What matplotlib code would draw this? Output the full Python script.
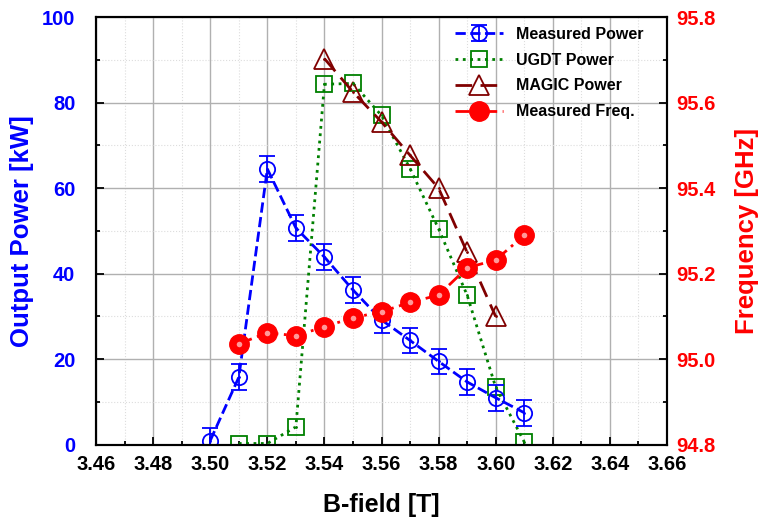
import matplotlib.pyplot as plt
from matplotlib.ticker import MultipleLocator

plt.rcParams['font.family'] = ['Liberation Sans', 'DejaVu Sans']
plt.rcParams['font.weight'] = 'bold'

# B-field values
b_meas = [3.50, 3.51, 3.52, 3.53, 3.54, 3.55, 3.56, 3.57, 3.58, 3.59, 3.60, 3.61]
p_meas = [1.0, 15.8, 64.5, 50.7, 43.9, 36.2, 29.2, 24.4, 19.5, 14.7, 11.0, 7.5]
p_err = [3, 3, 3, 3, 3, 3, 3, 3, 3, 3, 3, 3]

b_ugdt = [3.51, 3.52, 3.53, 3.54, 3.55, 3.56, 3.57, 3.58, 3.59, 3.60, 3.61]
p_ugdt = [0.3, 0.3, 4.2, 84.3, 84.5, 77.0, 64.6, 50.5, 35.0, 13.5, 0.7]

b_magic = [3.54, 3.55, 3.56, 3.57, 3.58, 3.59, 3.60]
p_magic = [90.3, 82.5, 75.5, 67.7, 60.0, 45.0, 30.0]

b_freq = [3.51, 3.52, 3.53, 3.54, 3.55, 3.56, 3.57, 3.58, 3.59, 3.60, 3.61]
freq = [95.036, 95.062, 95.055, 95.076, 95.097, 95.111, 95.133, 95.150, 95.214, 95.232, 95.290]

x_ticks = [3.46, 3.48, 3.50, 3.52, 3.54, 3.56, 3.58, 3.60, 3.62, 3.64, 3.66]
p_ticks = [0, 20, 40, 60, 80, 100]
f_ticks = [94.8, 95.0, 95.2, 95.4, 95.6, 95.8]

fig = plt.figure(figsize=(7.63, 5.19), dpi=100)
ax = fig.add_axes([0.126, 0.143, 0.748, 0.824])
ax2 = ax.twinx()

eb = ax.errorbar(b_meas, p_meas, yerr=p_err, fmt='o--', color='#0000ff', mfc='none', ms=11, mew=1.3,
                 lw=2, capsize=6, capthick=1.5, elinewidth=1.3, zorder=5)
ax.plot(b_meas, p_meas, '.', color='#0000ff', ms=2, zorder=6)
l_ugdt, = ax.plot(b_ugdt, p_ugdt, 's:', color='#008000', mfc='none', ms=11, mew=1.3, lw=2, zorder=4)
ax.plot(b_ugdt, p_ugdt, '.', color='#008000', ms=2, zorder=6)
l_magic, = ax.plot(b_magic, p_magic, '^', color='#800000', mfc='none', ms=14, mew=1.3, lw=2,
                   linestyle=(0, (6, 3)), zorder=4)
ax.plot(b_magic, p_magic, '.', color='#800000', ms=2, zorder=6)

l_freq, = ax2.plot(b_freq, freq, 'o', color='#ff0000', mec='#ff0000', ms=14, lw=2,
                   linestyle=(0, (5, 2, 1, 2)), zorder=5)
ax2.plot(b_freq, freq, 'o', color='#ff9999', ms=4, mec='none', zorder=6)

ax.set_xlim(3.46, 3.66)
ax.set_ylim(0, 100)
ax2.set_ylim(94.8, 95.8)

ax.set_xticks(x_ticks)
ax.set_xticklabels(['%.2f' % v for v in x_ticks])
ax.set_yticks(p_ticks)
ax.set_yticklabels([str(v) for v in p_ticks])
ax2.set_yticks(f_ticks)
ax2.set_yticklabels(['%.1f' % v for v in f_ticks])
ax.xaxis.set_minor_locator(MultipleLocator(0.01))
ax.yaxis.set_minor_locator(MultipleLocator(10))
ax2.yaxis.set_minor_locator(MultipleLocator(0.1))

ax.grid(which='major', color='#b0b0b0', lw=1)
ax.grid(which='minor', color='#dddddd', lw=0.8, linestyle=':')

ax.tick_params(which='both', direction='in', width=1.3, labelsize=14.5, color='black')
ax.tick_params(which='major', length=6)
ax.tick_params(which='minor', length=3)
ax.tick_params(axis='x', pad=7)
ax.tick_params(axis='y', labelcolor='#0000ff', pad=15)
ax2.tick_params(which='both', direction='in', width=1.3, labelsize=14.5, color='black',
                labelcolor='#ff0000')
ax2.tick_params(which='major', length=6, pad=7)
ax2.tick_params(which='minor', length=3)

for s in ax.spines.values():
    s.set_linewidth(1.5)
for s in ax2.spines.values():
    s.set_linewidth(1.5)

ax.set_xlabel('B-field [T]', fontsize=18, fontweight='bold', labelpad=14)
ax.set_ylabel('Output Power [kW]', fontsize=18.5, fontweight='bold', color='#0000ff', labelpad=6)
ax2.set_ylabel('Frequency [GHz]', fontsize=18.5, fontweight='bold', color='#ff0000', labelpad=14)

leg = ax2.legend([eb, l_ugdt, l_magic, l_freq],
                 ['Measured Power', 'UGDT Power', 'MAGIC Power', 'Measured Freq.'],
                 loc='upper right', bbox_to_anchor=(0.975, 1.0), frameon=False,
                 fontsize=11.5, handlelength=3.0, labelspacing=0.68, borderaxespad=0.2)
ax.set_zorder(ax2.get_zorder() - 1)
ax2.patch.set_visible(False)

fig.savefig('out.png', dpi=100)
